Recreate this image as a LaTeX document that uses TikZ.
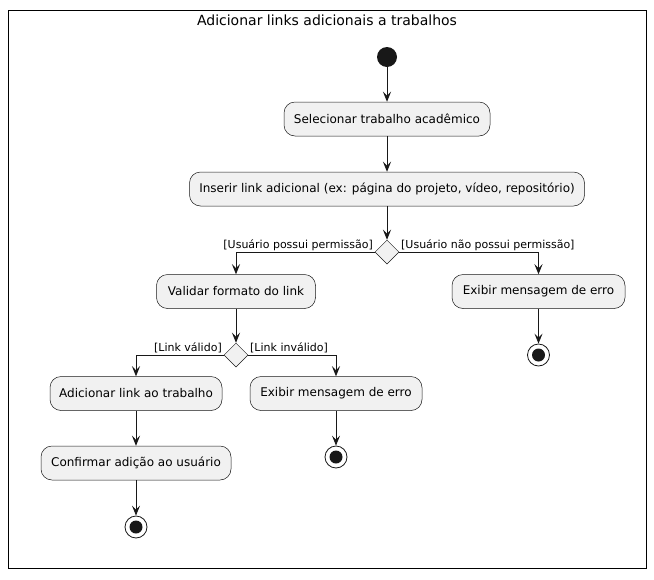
\documentclass[tikz,border=0pt]{standalone}
\usepackage{fontspec}
\setmainfont{DejaVu Sans}
\usetikzlibrary{shapes.geometric,arrows.meta}
\definecolor{boxfill}{HTML}{F1F1F1}
\definecolor{ink}{HTML}{181818}
\tikzset{
  act/.style={draw=ink, fill=boxfill, rounded corners=11pt, minimum height=34pt, inner xsep=8pt, font=\fontsize{12}{14}\selectfont, line width=0.5pt},
  dec/.style={draw=ink, fill=boxfill, diamond, minimum width=24pt, minimum height=24pt, inner sep=0pt, line width=0.5pt},
  startnode/.style={circle, fill=ink, minimum size=20pt, inner sep=0pt},
  endnode/.style={circle, draw=ink, fill=white, minimum size=22pt, inner sep=0pt, line width=0.8pt,
     path picture={\fill[ink] (path picture bounding box.center) circle (6.5pt);}},
  flow/.style={draw=ink, line width=0.8pt, -{Stealth[length=10pt,width=8pt,inset=4pt]}},
  guard/.style={font=\fontsize{11}{13}\selectfont, inner sep=1pt},
}
\begin{document}
\begin{tikzpicture}[x=1pt,y=-1pt]
\useasboundingbox (0,0) rectangle (654,579);
\draw[line width=1pt] (8,10) rectangle (646,568);
\node[font=\fontsize{14}{16}\selectfont] (title) at (327,20) {Adicionar links adicionais a trabalhos};

\node[startnode] (start) at (387,57) {};
\node[act, minimum width=206pt] (a1) at (387,119) {Selecionar trabalho acadêmico};
\node[act, minimum width=395pt] (a2) at (387,189) {Inserir link adicional (ex: página do projeto, vídeo, repositório)};
\node[dec] (d1) at (387,252) {};
\node[act, minimum width=159pt] (a3) at (236,291.5) {Validar formato do link};
\node[act, minimum width=173pt] (a4) at (538.5,291.5) {Exibir mensagem de erro};
\node[endnode] (e4) at (538.5,355) {};
\node[dec] (d2) at (236,355) {};
\node[act, minimum width=172pt] (a5) at (136,393.5) {Adicionar link ao trabalho};
\node[act, minimum width=172pt] (a6) at (336,393.5) {Exibir mensagem de erro};
\node[endnode] (e6) at (336,457) {};
\node[act, minimum width=190pt] (a7) at (136,463) {Confirmar adição ao usuário};
\node[endnode] (e7) at (136,527) {};

\draw[flow] (start) -- (a1);
\draw[flow] (a1) -- (a2);
\draw[flow] (a2) -- (d1);
\draw[flow] (d1.west) -| (a3.north);
\draw[flow] (d1.east) -| (a4.north);
\node[guard, anchor=base east] (g1) at (374,248) {[Usuário possui permissão]};
\node[guard, anchor=base west] (g2) at (400,248) {[Usuário não possui permissão]};
\draw[flow] (a4) -- (e4);
\draw[flow] (a3) -- (d2);
\draw[flow] (d2.west) -| (a5.north);
\draw[flow] (d2.east) -| (a6.north);
\node[guard, anchor=base east] (g3) at (223,351) {[Link válido]};
\node[guard, anchor=base west] (g4) at (249,351) {[Link inválido]};
\draw[flow] (a6) -- (e6);
\draw[flow] (a5) -- (a7);
\draw[flow] (a7) -- (e7);
\end{tikzpicture}
\end{document}
